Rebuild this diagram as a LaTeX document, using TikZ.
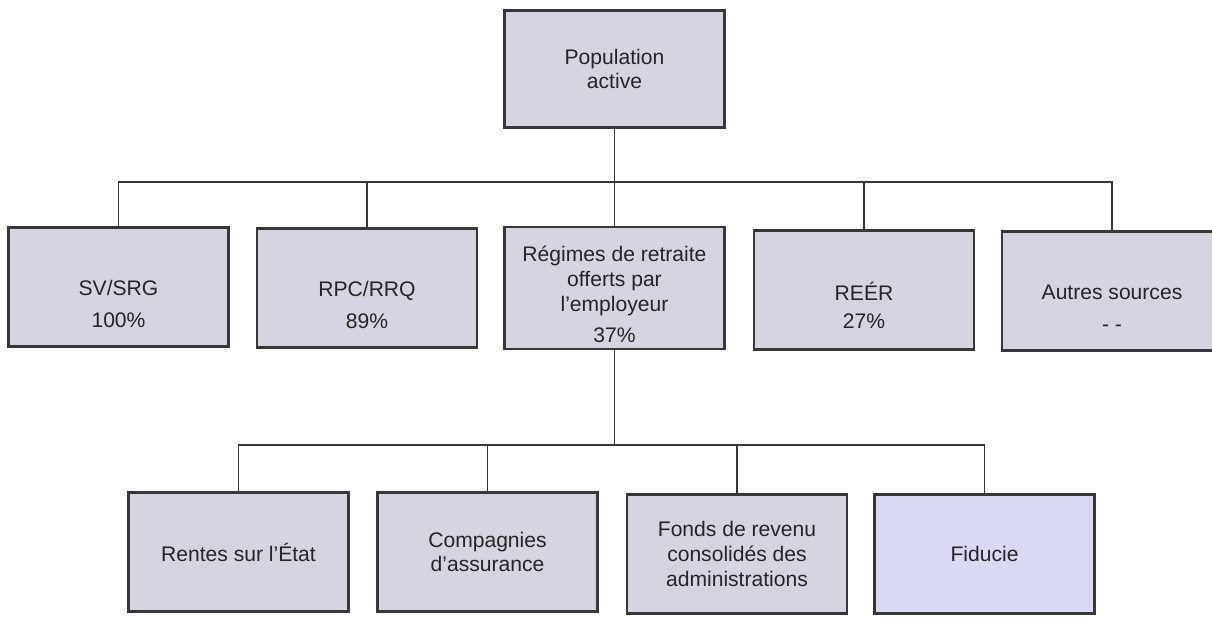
\documentclass[tikz,border=0pt]{standalone}
\usepackage{fontspec}
\setmainfont{Liberation Sans}
\usepackage{tikz}
\usetikzlibrary{positioning, calc}
\definecolor{boxfill}{HTML}{D5D4E0}
\definecolor{boxfilllight}{HTML}{D9D9F3}
\definecolor{boxline}{HTML}{383838}
\newcommand{\lowstrut}{\rule{0pt}{28pt}}
\tikzset{
    block/.style={rectangle, draw=boxline, fill=boxfill, line width=1.2pt, minimum width=4.4cm, minimum height=2.38cm, align=center, font=\fontsize{12}{14}\selectfont, text=black!85},
    lightblock/.style={block, fill=boxfilllight},
    link/.style={draw=boxline, line width=1.1pt},
}
\begin{document}
\begin{tikzpicture}
    \useasboundingbox[fill=white] (0,0) rectangle (24.24,12.32);
    \node[block, minimum height=2.34cm] (pop) at (12.29, 10.94) {Population\\active};
    \node[block] (sv)  at (2.37, 6.58)  {\lowstrut SV/SRG\\[4pt]100\%};
    \node[block] (rpc) at (7.34, 6.56)  {\lowstrut RPC/RRQ\\[4pt]89\%};
    \node[block] (reg) at (12.29, 6.56) {\rule{0pt}{16.5pt}Régimes de retraite\\offerts par\\l'employeur\\[4pt]37\%};
    \node[block] (reer) at (17.28, 6.52) {\lowstrut REÉR\\[2pt]27\%};
    \node[block] (autres) at (22.24, 6.50) {\lowstrut Autres sources\\[4pt]- -};
    \coordinate (bus1) at (12.29, 8.68);
    \draw[link] (pop.south) -- (bus1);
    \draw[link] (bus1) -| (sv.north);
    \draw[link] (bus1) -| (rpc.north);
    \draw[link] (bus1) -- (reg.north);
    \draw[link] (bus1) -| (reer.north);
    \draw[link] (bus1) -| (autres.north);
    \node[block] (rentes) at (4.77, 1.28)  {Rentes sur l'État};
    \node[block] (cies)   at (9.75, 1.28)  {Compagnies\\d'assurance};
    \node[block] (fonds)  at (14.74, 1.24) {Fonds de revenu\\consolidés des\\administrations};
    \node[lightblock] (fiducie) at (19.69, 1.24) {Fiducie};
    \coordinate (bus2) at (12.29, 3.42);
    \draw[link] (reg.south) -- (bus2);
    \draw[link] (bus2) -| (rentes.north);
    \draw[link] (bus2) -| (cies.north);
    \draw[link] (bus2) -| (fonds.north);
    \draw[link] (bus2) -| (fiducie.north);
\end{tikzpicture}
\end{document}
